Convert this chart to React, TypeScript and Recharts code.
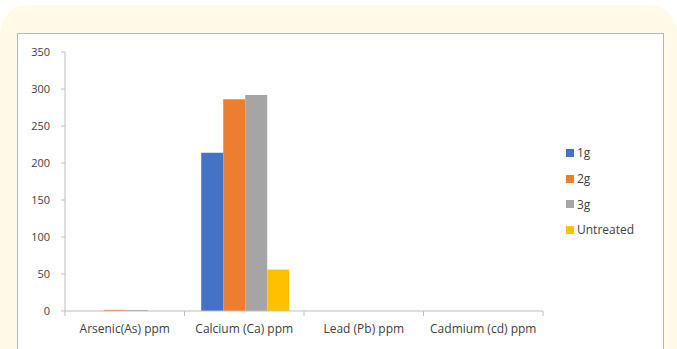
import { BarChart, Bar, XAxis, YAxis } from 'recharts';

const categories = ['Arsenic(As) ppm', 'Calcium (Ca) ppm', 'Lead (Pb) ppm', 'Cadmium (cd) ppm'];
const g1 = [0, 214, 0, 0];
const g2 = [1.5, 286, 0, 0];
const g3 = [1.5, 292, 0, 0];
const untreated = [0, 56, 0, 0];
const yTicks = [0, 50, 100, 150, 200, 250, 300, 350];

const series = [
  { key: '1g', color: '#4472c4', values: g1 },
  { key: '2g', color: '#ed7d31', values: g2 },
  { key: '3g', color: '#a5a5a5', values: g3 },
  { key: 'Untreated', color: '#ffc000', values: untreated },
];

const data = categories.map((name, i) => {
  const row: Record<string, string | number> = { name };
  series.forEach((s) => (row[s.key] = s.values[i]));
  return row;
});

const FONT = '"Open Sans", "Liberation Sans", sans-serif';
const TEXT = '#404040';
const AXIS = '#bfbfbf';
const BAND = 119.5;

const CatTick = (props: any) => {
  const { x, y, payload, index, visibleTicksCount } = props;
  const last = index === visibleTicksCount - 1;
  return (
    <g>
      <line x1={x - BAND / 2} y1={y - 8} x2={x - BAND / 2} y2={y - 3} stroke={AXIS} />
      {last && <line x1={x + BAND / 2} y1={y - 8} x2={x + BAND / 2} y2={y - 3} stroke={AXIS} />}
      <text x={x} y={y + 14} textAnchor="middle" fill={TEXT} fontSize={12} fontFamily={FONT}>
        {payload.value}
      </text>
    </g>
  );
};

export default function App() {
  return (
    <div style={{ position: 'absolute', left: 0, top: 0, width: 677, height: 349, background: '#fff', overflow: 'hidden' }}>
      <div style={{ position: 'absolute', left: 0, top: 5, width: 677, height: 380, background: '#fffbe8', borderRadius: 28 }} />
      <div style={{ position: 'absolute', left: 17, top: 33, width: 645, height: 320, background: '#fff', border: '1px solid #b8b8b8' }} />
      <div style={{ position: 'absolute', left: 0, top: 0 }}>
        <BarChart
          width={677}
          height={349}
          data={data}
          margin={{ top: 52, right: 134, bottom: 8, left: 25 }}
          barCategoryGap="14%"
          barGap={0}
        >
          <XAxis
            dataKey="name"
            height={30}
            stroke={AXIS}
            tickLine={false}
            tick={<CatTick />}
            interval={0}
          />
          <YAxis
            width={40}
            domain={[0, 350]}
            ticks={yTicks}
            stroke={AXIS}
            tickSize={4}
            tickMargin={11}
            tick={{ fill: TEXT, fontSize: 11, fontFamily: FONT }}
          />
          {series.map((s) => (
            <Bar key={s.key} dataKey={s.key} fill={s.color} isAnimationActive={false} />
          ))}
        </BarChart>
      </div>
      <div style={{ position: 'absolute', left: 566, top: 140, fontFamily: FONT, fontSize: 12, color: TEXT }}>
        {series.map((s) => (
          <div key={s.key} style={{ display: 'flex', alignItems: 'center', height: 25.7 }}>
            <span style={{ width: 8, height: 8, background: s.color, marginRight: 3 }} />
            {s.key}
          </div>
        ))}
      </div>
    </div>
  );
}
